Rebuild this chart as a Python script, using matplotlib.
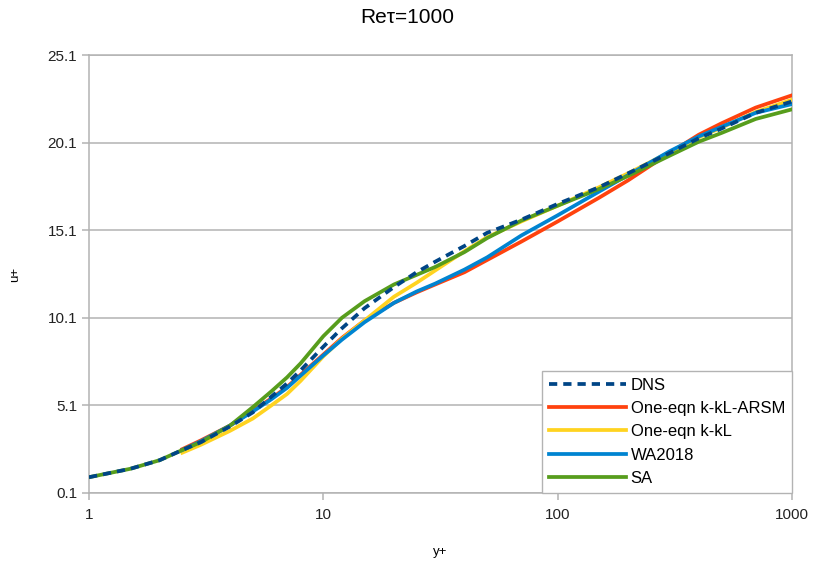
import numpy as np
import matplotlib.pyplot as plt

plt.rcParams['font.family'] = ['Liberation Sans', 'DejaVu Sans']

# y+ sample points and u+ values
y_dns = [1, 1.5, 2, 2.5, 3, 4, 5, 6, 7, 8, 10, 12, 15, 20, 25, 30, 40, 50, 70, 100, 150, 200, 300, 400, 500, 700, 1000]
u_dns = [1.0, 1.48, 1.97, 2.55, 3.0, 3.9, 4.7, 5.6, 6.35, 7.1, 8.45, 9.5, 10.65, 11.85, 12.7, 13.3, 14.2, 14.95, 15.7, 16.6, 17.55, 18.35, 19.5, 20.35, 20.9, 21.8, 22.45]

y_sa = y_dns
u_sa = [1.0, 1.48, 1.97, 2.55, 3.0, 3.95, 5.0, 5.9, 6.7, 7.5, 9.05, 10.1, 11.05, 12.0, 12.55, 13.0, 13.85, 14.65, 15.65, 16.5, 17.45, 18.2, 19.35, 20.15, 20.65, 21.45, 22.0]

y_mod = [2.5, 3, 4, 5, 6, 7, 8, 10, 12, 15, 20, 25, 30, 40, 50, 70, 100, 150, 200, 300, 400, 500, 700, 1000]
u_arsm = [2.6, 3.1, 3.95, 4.8, 5.5, 6.15, 6.85, 8.0, 8.95, 9.95, 10.95, 11.55, 12.0, 12.7, 13.4, 14.45, 15.6, 16.95, 17.95, 19.5, 20.55, 21.2, 22.1, 22.8]
u_kkl = [2.4, 2.85, 3.65, 4.35, 5.1, 5.75, 6.5, 7.9, 8.9, 9.95, 11.3, 12.1, 12.8, 13.9, 14.7, 15.6, 16.5, 17.55, 18.35, 19.55, 20.4, 20.95, 21.85, 22.55]
u_wa = [2.55, 3.05, 3.95, 4.75, 5.45, 6.1, 6.8, 7.95, 8.85, 9.85, 10.95, 11.6, 12.05, 12.85, 13.55, 14.8, 15.95, 17.3, 18.25, 19.6, 20.45, 21.0, 21.8, 22.3]

fig = plt.figure(figsize=(8.15, 5.66), dpi=100)
ax = fig.add_axes([0.1092, 0.129, 0.8626, 0.7738])

lw = 2.7
ax.plot(y_mod, u_arsm, color='#ff420e', lw=lw, label='One-eqn k-kL-ARSM', zorder=3)
ax.plot(y_mod, u_kkl, color='#ffd320', lw=lw, label='One-eqn k-kL', zorder=3)
ax.plot(y_mod, u_wa, color='#0084d1', lw=lw, label='WA2018', zorder=3)
ax.plot(y_sa, u_sa, color='#579d1c', lw=lw, label='SA', zorder=3)
ax.plot(y_dns, u_dns, color='#004586', lw=lw, ls=(0, (2.2, 1.6)), label='DNS', zorder=4)

ax.set_xscale('log')
ax.set_xlim(1, 1000)
ax.set_ylim(0.1, 25.1)
ax.set_xticks([1, 10, 100, 1000])
ax.set_xticklabels(['1', '10', '100', '1000'])
ax.set_xticks([], minor=True)
ax.set_yticks([0.1, 5.1, 10.1, 15.1, 20.1, 25.1])
ax.set_yticklabels(['0.1', '5.1', '10.1', '15.1', '20.1', '25.1'])
ax.yaxis.grid(True, color='#b3b3b3', lw=1.1)
ax.set_axisbelow(True)
for s in ax.spines.values():
    s.set_color('#b3b3b3')
    s.set_linewidth(1.1)
ax.tick_params(colors='#b3b3b3', labelcolor='#222222', labelsize=11, length=5, width=1.1)
ax.tick_params(axis='x', pad=6)

ax.set_xlabel('y+', fontsize=9.5, labelpad=17)
ax.set_ylabel('u+', fontsize=9.5, labelpad=19)
fig.suptitle('Reτ=1000', fontsize=15, y=0.985)

handles, labels = ax.get_legend_handles_labels()
order = [4, 0, 1, 2, 3]
leg = ax.legend([handles[i] for i in order], [labels[i] for i in order],
                loc='lower right', bbox_to_anchor=(1.0, 0.0), borderaxespad=0,
                fontsize=12, handlelength=4.6, handletextpad=0.3, labelspacing=0.5,
                fancybox=False, framealpha=1, edgecolor='#b3b3b3', borderpad=0.42)
leg.get_frame().set_linewidth(1.0)
leg.set_zorder(10)

fig.savefig('out.png', dpi=100)
